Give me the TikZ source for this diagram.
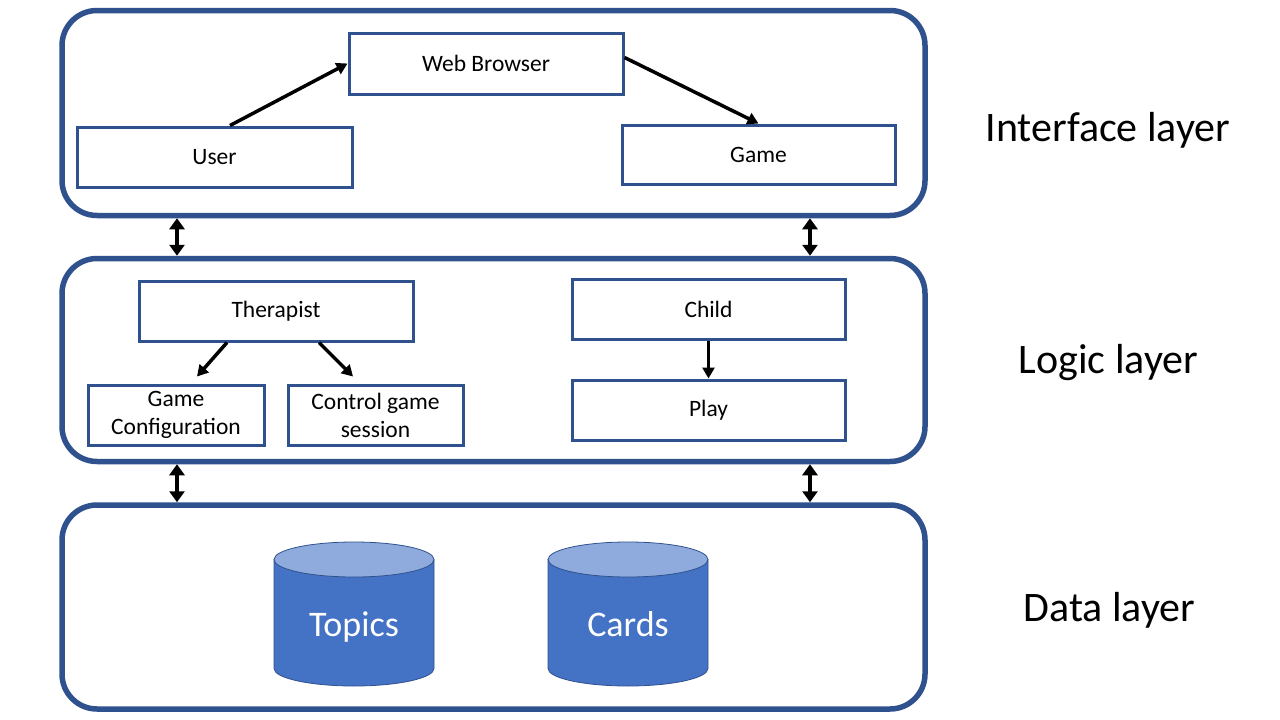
\documentclass[tikz,border=0pt]{standalone}
\usepackage{fontspec}
\setmainfont{Carlito}
\usetikzlibrary{arrows.meta,calc}
\definecolor{dblue}{HTML}{2F528F}
\definecolor{cylbody}{HTML}{4472C4}
\definecolor{cyltop}{HTML}{8FAADC}
\tikzset{
  layerbox/.style={draw=dblue, line width=5.5pt, rounded corners=35pt, inner sep=0pt},
  compbox/.style={draw=dblue, line width=3pt, fill=white, inner sep=0pt, align=center,
    font=\fontsize{23.5}{28}\selectfont},
  layerlabel/.style={anchor=base, font=\fontsize{42}{50}\selectfont},
  arr/.style={line width=3.5pt, -{Triangle[length=11pt,width=12pt]}},
  darr/.style={line width=4.5pt, {Triangle[length=11pt,width=15pt]}-{Triangle[length=11pt,width=15pt]}},
  cylline/.style={draw=dblue, line width=0.8pt},
  cyllabel/.style={anchor=base, text=white, font=\fontsize{36}{43}\selectfont}
}
\begin{document}
\begin{tikzpicture}[x=1pt,y=-1pt]
\useasboundingbox (0,0) rectangle (1280,720);
\fill[white] (0,0) rectangle (1280,720);

% layers
\node[layerbox, minimum width=863pt, minimum height=205pt] (L1) at (493.5,113) {};
\node[layerbox, minimum width=863pt, minimum height=203pt] (L2) at (493.5,360) {};
\node[layerbox, minimum width=863pt, minimum height=204pt] (L3) at (493.5,607) {};

% interface layer
\node[compbox, minimum width=274pt, minimum height=61pt] (web) at (486,63.5) {Web Browser};
\node[compbox, minimum width=275pt, minimum height=60pt] (user) at (214.5,157) {User};
\node[compbox, minimum width=273pt, minimum height=59pt] (game) at (758.5,154.5) {Game};

\draw[arr] ($(user.north)+(15.5,0)$) -- (web.west);
\draw[arr] ($(web.east)+(0,-6)$) -- (game.north);

% logic layer
\node[compbox, minimum width=274pt, minimum height=60pt] (ther) at (276,311) {Therapist};
\node[compbox, minimum width=176pt, minimum height=60pt] (gc) at (176,415) {Game\\Configuration};
\node[compbox, minimum width=175pt, minimum height=60pt] (ctl) at (375.5,415) {Control game\\session};
\node[compbox, minimum width=273pt, minimum height=60pt] (child) at (708.5,309) {Child};
\node[compbox, minimum width=273pt, minimum height=60pt] (play) at (708.5,410) {Play};

\draw[arr] ($(ther.south)+(-49,0)$) -- ($(gc.north)+(21,-7)$);
\draw[arr] ($(ther.south)+(43,0)$) -- ($(ctl.north)+(-22.5,-7)$);
\draw[arr] (child.south) -- (play.north);

% inter-layer arrows
\coordinate (cl) at (177,0);
\coordinate (cr) at (810,0);
\draw[darr] (L1.south -| cl) -- (L2.north -| cl);
\draw[darr] (L1.south -| cr) -- (L2.north -| cr);
\draw[darr] (L2.south -| cl) -- (L3.north -| cl);
\draw[darr] (L2.south -| cr) -- (L3.north -| cr);

% data layer cylinders
\foreach \cx/\nm/\txt in {354/topics/Topics, 628/cards/Cards}{
  \path[cylline, fill=cylbody] (\cx-80,559.5) -- (\cx-80,668.5)
     arc[start angle=180, end angle=360, x radius=80pt, y radius=17.5pt]
     -- (\cx+80,559.5) -- cycle;
  \path[cylline, fill=cyltop] (\cx,559.5) ellipse[x radius=80pt, y radius=17.5pt];
  \node[cyllabel] (\nm) at (\cx,636) {\txt};
}

% layer labels
\node[layerlabel] (lab1) at (1108,141) {Interface layer};
\node[layerlabel] (lab2) at (1108.5,373) {Logic layer};
\node[layerlabel] (lab3) at (1109.5,621) {Data layer};
\end{tikzpicture}
\end{document}
